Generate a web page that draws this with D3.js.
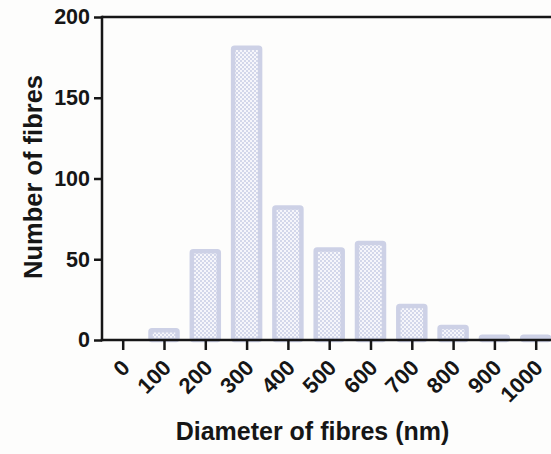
<!DOCTYPE html>
<html>
<head>
<meta charset="utf-8">
<script src="https://cdn.jsdelivr.net/npm/d3@7"></script>
<style>
  html, body { margin: 0; padding: 0; background: #fdfdfc; }
  svg { display: block; }
  text { font-family: "Liberation Sans", Arial, sans-serif; font-weight: bold; fill: #161616; }
</style>
</head>
<body>
<svg id="chart" width="551" height="454"></svg>
<script>
// Fibre diameter histogram (bin centres in nm)
const diameters = [0, 100, 200, 300, 400, 500, 600, 700, 800, 900, 1000];
const counts     = [0, 6, 55, 181, 82, 56, 60, 21, 8, 2, 2];
const yTicks     = [0, 50, 100, 150, 200];

const svg = d3.select("#chart");

const x = d3.scaleLinear().domain([0, 1000]).range([122.7, 535.7]);
const y = d3.scaleLinear().domain([0, 200]).range([340, 17]);

const frameLeft = 102, frameRight = 570;

// checkerboard fill for the bars
const defs = svg.append("defs");
const pat = defs.append("pattern")
  .attr("id", "checker")
  .attr("patternUnits", "userSpaceOnUse")
  .attr("width", 4).attr("height", 4);
pat.append("rect").attr("width", 4).attr("height", 4).attr("fill", "#f6f6fb");
pat.append("rect").attr("width", 2).attr("height", 2).attr("fill", "#d3d7ea");
pat.append("rect").attr("x", 2).attr("y", 2).attr("width", 2).attr("height", 2).attr("fill", "#d3d7ea");

const barW = 27;
svg.append("g").selectAll("rect")
  .data(diameters.map((d, i) => ({ d, c: counts[i] })).filter(e => e.c > 0))
  .join("rect")
  .attr("x", e => x(e.d) - barW / 2)
  .attr("y", e => y(e.c))
  .attr("width", barW)
  .attr("height", e => y(0) - y(e.c))
  .attr("rx", 1.5)
  .attr("fill", "url(#checker)")
  .attr("stroke", "#cdd1e6")
  .attr("stroke-width", 4.5);

// frame: top line
svg.append("line")
  .attr("x1", frameLeft).attr("x2", frameRight)
  .attr("y1", y(200)).attr("y2", y(200))
  .attr("stroke", "#161616").attr("stroke-width", 2.5);

const fontFamily = "Liberation Sans, Arial, sans-serif";

// y axis
const yAxis = svg.append("g")
  .attr("transform", `translate(${frameLeft},0)`)
  .call(d3.axisLeft(y).tickValues(yTicks).tickSize(8).tickPadding(4));
yAxis.select(".domain").attr("stroke", "#161616").attr("stroke-width", 2.5)
  .attr("d", `M0,${y(200) - 1.25}V${y(0) + 1.25}`);
yAxis.selectAll(".tick line").attr("stroke", "#161616").attr("stroke-width", 2.5);
yAxis.selectAll(".tick text").attr("font-size", 21.5).attr("fill", "#161616")
  .attr("font-family", fontFamily).attr("font-weight", "bold");

// x axis
const xAxis = svg.append("g")
  .attr("transform", `translate(0,${y(0)})`)
  .call(d3.axisBottom(x).tickValues(diameters).tickSize(10).tickFormat(d3.format("d")));
xAxis.select(".domain").attr("stroke", "#161616").attr("stroke-width", 2.5)
  .attr("d", `M${frameLeft - 1.25},0H${frameRight}`);
xAxis.selectAll(".tick line").attr("stroke", "#161616").attr("stroke-width", 2.5);
xAxis.selectAll(".tick text")
  .attr("font-size", 22).attr("fill", "#161616")
  .attr("font-family", fontFamily).attr("font-weight", "bold")
  .attr("text-anchor", "end")
  .attr("dy", null).attr("y", 0)
  .attr("transform", "translate(8,29) rotate(-45)");

// axis titles
svg.append("text")
  .attr("x", 312.5).attr("y", 440)
  .attr("text-anchor", "middle")
  .attr("font-size", 25)
  .text("Diameter of fibres (nm)");

svg.append("text")
  .attr("transform", "translate(41.5,177) rotate(-90)")
  .attr("text-anchor", "middle")
  .attr("font-size", 25.5)
  .text("Number of fibres");
</script>
</body>
</html>
